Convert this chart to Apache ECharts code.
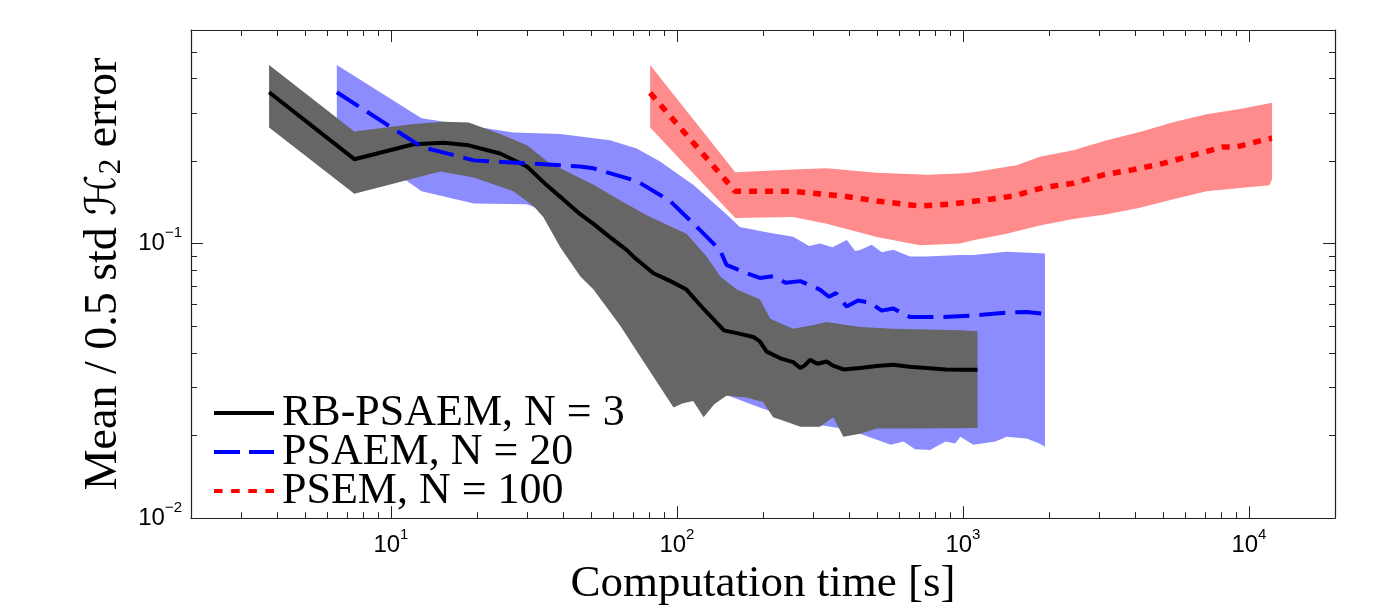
<!DOCTYPE html>
<html>
<head>
<meta charset="utf-8">
<script src="https://cdn.jsdelivr.net/npm/echarts@6/dist/echarts.min.js"></script>
<style>
html,body{margin:0;padding:0;background:#fff;}
#chart{width:1378px;height:612px;}
</style>
</head>
<body>
<div id="chart"></div>
<script>
// ---- data: [computation time (s), error] ----
const rbMean = [[3.75,0.356],[7.45,0.203],[12,0.23],[15.3,0.233],[18.7,0.228],[24.1,0.213],[29.9,0.191],[35.1,0.163],[39.1,0.148],[45.9,0.128],[51.1,0.118],[58,0.106],[66.8,0.0947],[70.5,0.0896],[82.8,0.078],[95,0.073],[108,0.068],[124,0.0578],[146,0.0483],[165,0.047],[185,0.0457],[195,0.044],[206,0.0404],[230,0.0382],[255,0.037],[270,0.0352],[280,0.036],[292,0.0377],[310,0.0365],[334,0.0372],[350,0.036],[382,0.0348],[437,0.0352],[500,0.0358],[571,0.0362],[650,0.0356],[747,0.0352],[870,0.0348],[977,0.0347],[1125,0.0347]];
const rbUpper = [[3.75,0.447],[7.45,0.256],[12,0.273],[15.3,0.278],[18.7,0.276],[24.1,0.251],[29.9,0.228],[35.1,0.2],[39.1,0.188],[51.1,0.164],[66.8,0.139],[80.6,0.125],[108,0.1086],[127,0.0897],[141.5,0.076],[162,0.068],[195,0.0627],[212,0.0532],[255,0.049],[300,0.0505],[334,0.0518],[437,0.0497],[571,0.049],[977,0.0483],[1125,0.0479]];
const rbLower = [[3.75,0.265],[7.45,0.152],[14.9,0.183],[19.5,0.174],[26.8,0.155],[31.5,0.137],[34.1,0.125],[39.1,0.097],[45.9,0.076],[51.1,0.068],[63.2,0.0504],[76.4,0.0372],[97.3,0.0253],[105,0.0262],[114,0.0267],[124,0.0233],[135,0.026],[149,0.0279],[175,0.0275],[200,0.0265],[217,0.0233],[240,0.0225],[270,0.0215],[316,0.0215],[352,0.0233],[382,0.0198],[437,0.0203],[500,0.0212],[700,0.0212],[1125,0.0213]];

const psaemMean = [[6.47,0.356],[12.8,0.225],[19.5,0.201],[30,0.196],[45.9,0.191],[51.1,0.188],[72.4,0.169],[94.6,0.143],[120.5,0.112],[141.5,0.0947],[149,0.0837],[175,0.078],[195,0.075],[217,0.076],[240,0.072],[270,0.073],[316,0.068],[340,0.064],[360,0.066],[392,0.059],[430,0.062],[473,0.061],[520,0.057],[571,0.058],[653,0.054],[855,0.054],[1087,0.0547],[1422,0.0561],[1671,0.0563],[1936,0.0555]];
const psaemUpper = [[6.47,0.447],[12.8,0.286],[26.8,0.254],[39.1,0.251],[58.3,0.238],[72.4,0.222],[87.3,0.199],[114,0.164],[149,0.128],[166,0.115],[206,0.11],[255,0.106],[290,0.098],[316,0.1],[350,0.097],[393,0.103],[420,0.094],[437,0.0947],[480,0.099],[520,0.093],[571,0.095],[653,0.0897],[747,0.0897],[977,0.0909],[1087,0.0909],[1422,0.0934],[1936,0.092]];
const psaemLower = [[6.47,0.256],[12.8,0.155],[19.5,0.14],[29.9,0.139],[35,0.13],[45,0.09],[60,0.06],[80,0.04],[100,0.03],[150,0.028],[200,0.025],[300,0.022],[400,0.021],[506,0.0192],[560,0.0185],[620,0.019],[680,0.0178],[767,0.0177],[870,0.019],[940,0.0187],[980,0.0198],[1087,0.0185],[1300,0.019],[1422,0.0198],[1671,0.0195],[1850,0.0187],[1936,0.0182]];

const psemMean = [[80.6,0.354],[160,0.155],[255,0.155],[382,0.149],[500,0.143],[708,0.137],[889,0.139],[1178,0.144],[1500,0.149],[1910,0.16],[2432,0.166],[3097,0.178],[3945,0.186],[5017,0.196],[6385,0.21],[8135,0.225],[9060,0.225],[11670,0.241],[12050,0.242]];
const psemUpper = [[80.6,0.447],[160,0.182],[255,0.186],[334,0.188],[500,0.181],[747,0.178],[977,0.18],[1087,0.182],[1541,0.193],[1857,0.207],[2432,0.219],[3186,0.238],[4157,0.255],[5433,0.277],[7112,0.296],[9310,0.309],[12050,0.326]];
const psemLower = [[80.6,0.265],[160,0.124],[255,0.125],[334,0.118],[500,0.1057],[708,0.0987],[977,0.1],[1087,0.1028],[1422,0.1086],[1857,0.1164],[2432,0.123],[3186,0.128],[4157,0.135],[5433,0.145],[7112,0.155],[9310,0.1595],[11800,0.163],[12050,0.172]];

const seriesNames = ['RB-PSAEM, N = 3', 'PSAEM, N = 20', 'PSEM, N = 100'];
const xMinorTicks = [3,4,5,6,7,8,9,20,30,40,50,60,70,80,90,200,300,400,500,600,700,800,900,2000,3000,4000,5000,6000,7000,8000,9000];
const yMinorTicks = [0.02,0.03,0.04,0.05,0.06,0.07,0.08,0.09,0.2,0.3,0.4,0.5];
const xRange = [2, 20000];
const yRange = [0.01, 0.6];

// ---- chart ----
const AX = '#222';
const SERIF = '"Liberation Serif", "DejaVu Serif", serif';
const SANS = '"Liberation Sans", Arial, sans-serif';

function powLabel(v) {
  const e = Math.log10(v);
  const r = Math.round(e);
  if (Math.abs(e - r) > 1e-6) return '';
  return '{b|10}{s|' + (r < 0 ? '\u2212' + (-r) : r) + '}';
}
const labelRich = {
  b: {fontSize: 24, lineHeight: 36, fontFamily: SANS, color: '#000'},
  s: {fontSize: 15, lineHeight: 15, verticalAlign: 'top', fontFamily: SANS, color: '#000'}
};

function bandRender(upper, lower, color) {
  return function (params, api) {
    const pts = upper.map(p => api.coord(p)).concat(lower.slice().reverse().map(p => api.coord(p)));
    return {type: 'polygon', silent: true, shape: {points: pts}, style: {fill: color}};
  };
}

function tickRender(params, api) {
  const cs = params.coordSys;
  const kind = api.value(2);
  const L = 6;
  const st = {stroke: AX, lineWidth: 1};
  if (kind === 0) {
    const x = Math.round(api.coord([api.value(0), yRange[0]])[0]) + 0.5;
    return {type: 'group', silent: true, children: [
      {type: 'line', shape: {x1: x, y1: cs.y + cs.height, x2: x, y2: cs.y + cs.height - L}, style: st},
      {type: 'line', shape: {x1: x, y1: cs.y, x2: x, y2: cs.y + L}, style: st}
    ]};
  } else {
    const y = Math.round(api.coord([xRange[0], api.value(1)])[1]) + 0.5;
    return {type: 'group', silent: true, children: [
      {type: 'line', shape: {x1: cs.x, y1: y, x2: cs.x + L, y2: y}, style: st},
      {type: 'line', shape: {x1: cs.x + cs.width, y1: y, x2: cs.x + cs.width - L, y2: y}, style: st}
    ]};
  }
}
const tickData = xMinorTicks.map(v => [v, 0.1, 0]).concat(yMinorTicks.map(v => [10, v, 1]));

const axisBase = {
  type: 'log', logBase: 10,
  axisLine: {show: true, lineStyle: {color: AX, width: 1.2}},
  axisTick: {show: true, inside: true, length: 12, lineStyle: {color: AX, width: 1}},
  splitLine: {show: false},
  minorTick: {show: false}
};

const option = {
  animation: false,
  backgroundColor: '#fff',
  grid: {left: 191, right: 43, top: 30, bottom: 86, containLabel: false},
  xAxis: [
    Object.assign({}, axisBase, {
      position: 'bottom', min: xRange[0], max: xRange[1],
      axisLabel: {formatter: powLabel, rich: labelRich, margin: 9, showMinLabel: true, showMaxLabel: true},
      name: 'Computation time [s]', nameLocation: 'middle', nameGap: 40,
      nameTextStyle: {fontFamily: SERIF, fontSize: 45, lineHeight: 45, color: '#000'}
    }),
    Object.assign({}, axisBase, {
      position: 'top', min: xRange[0], max: xRange[1], axisLabel: {show: false}
    })
  ],
  yAxis: [
    Object.assign({}, axisBase, {
      position: 'left', min: yRange[0], max: yRange[1],
      axisLabel: {formatter: powLabel, rich: labelRich, margin: 9},
      name: '{t|Mean / 0.5 std }{h|\u210B}{sub|2}{t| error}', nameLocation: 'middle', nameGap: 64, nameRotate: 90,
      nameTextStyle: {
        fontFamily: SERIF, fontSize: 46, lineHeight: 46, color: '#000',
        rich: {
          t: {fontFamily: SERIF, fontSize: 46, lineHeight: 46, color: '#000'},
          h: {fontFamily: '"DejaVu Serif", "DejaVu Sans", serif', fontStyle: 'italic', fontSize: 42, lineHeight: 46, color: '#000'},
          sub: {fontFamily: SERIF, fontSize: 31, lineHeight: 22, verticalAlign: 'bottom', color: '#000'}
        }
      }
    }),
    Object.assign({}, axisBase, {
      position: 'right', min: yRange[0], max: yRange[1], axisLabel: {show: false}
    })
  ],
  legend: {
    orient: 'vertical', left: 214, top: 391, padding: 0, itemGap: -5,
    itemWidth: 60, itemHeight: 4,
    itemStyle: {borderWidth: 0},
    textStyle: {fontFamily: SERIF, fontSize: 44, lineHeight: 38.5, color: '#000', padding: [0, 0, 0, 3]},
    data: [
      {name: seriesNames[0], icon: 'path://M0,0H60V4H0Z'},
      {name: seriesNames[1], icon: 'path://M0,0H26V4H0Z M35,0H60V4H35Z'},
      {name: seriesNames[2], icon: 'path://M0,0H8.6V4H0Z M17.1,0H25.7V4H17.1Z M34.3,0H42.9V4H34.3Z M51.4,0H60V4H51.4Z'}
    ]
  },
  series: [
    {type: 'custom', name: 'psaemBand', z: 1, xAxisIndex: 0, yAxisIndex: 0, data: [psaemUpper[0]], renderItem: bandRender(psaemUpper, psaemLower, '#8c8cff')},
    {type: 'custom', name: 'rbBand', z: 1, xAxisIndex: 0, yAxisIndex: 0, data: [rbUpper[0]], renderItem: bandRender(rbUpper, rbLower, '#666666')},
    {type: 'custom', name: 'psemBand', z: 1, xAxisIndex: 0, yAxisIndex: 0, data: [psemUpper[0]], renderItem: bandRender(psemUpper, psemLower, '#ff8c8c')},
    {type: 'line', name: seriesNames[0], z: 3, data: rbMean, symbol: 'none', color: '#000',
      itemStyle: {color: '#000'}, lineStyle: {color: '#000', width: 4}},
    {type: 'line', name: seriesNames[1], z: 3, data: psaemMean, symbol: 'none', color: '#0000ff',
      itemStyle: {color: '#0000ff'}, lineStyle: {color: '#0000ff', width: 4, type: [26, 10], cap: 'butt'}},
    {type: 'line', name: seriesNames[2], z: 3, data: psemMean, symbol: 'none', color: '#ff0000',
      itemStyle: {color: '#ff0000'}, lineStyle: {color: '#ff0000', width: 5.5, type: [8, 8], cap: 'butt'}},
    {type: 'custom', name: 'minorTicks', z: 4, xAxisIndex: 0, yAxisIndex: 0, data: tickData, renderItem: tickRender}
  ]
};

const chart = echarts.init(document.getElementById('chart'), null, {renderer: 'canvas'});
chart.setOption(option);
</script>
</body>
</html>
